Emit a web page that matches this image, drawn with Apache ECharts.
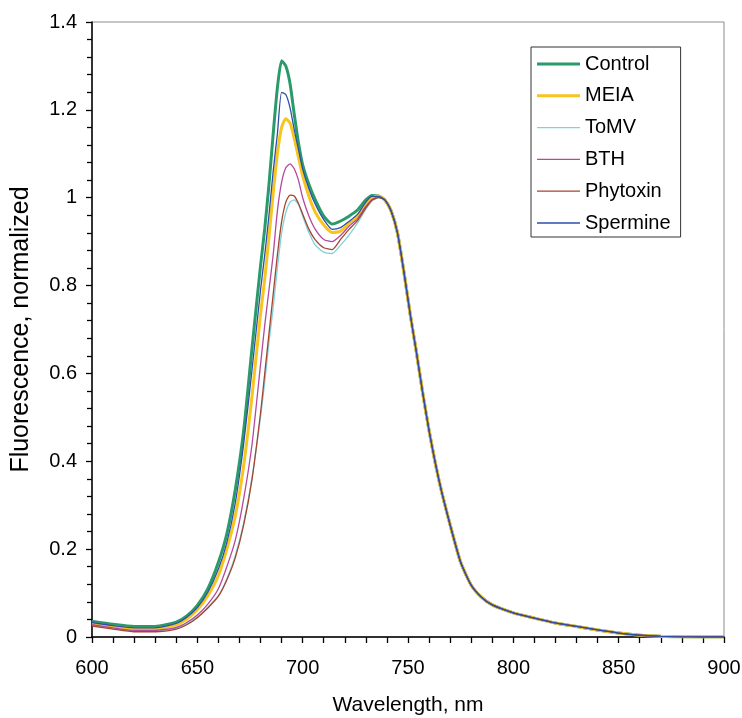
<!DOCTYPE html>
<html>
<head>
<meta charset="utf-8">
<script src="https://cdn.jsdelivr.net/npm/echarts@6/dist/echarts.min.js"></script>
<style>html,body{margin:0;padding:0;background:#fff}#c{width:742px;height:718px}</style>
</head>
<body>
<div id="c"></div>
<script>
// Wavelength grid (nm) for the region where the series differ
const wavelengthsHead = [600,610,620,630,640,645,650,655,660,664,668,672,676,680,682,684,686,688,690,692,694,696,698,700,703,706,710,714,718,722,726,730,733,736];
// Wavelength grid (nm) for the region where all series coincide
const wavelengthsTail = [739,742,745,748,751,754,757,760,763,766,770,775,780,785,790,800,810,820,830,840,850,860,870,880,890,900];

const controlHead  = [.036,.029,.024,.024,.034,.048,.072,.11,.17,.235,.335,.47,.66,.845,.93,1.03,1.145,1.25,1.312,1.3,1.26,1.19,1.125,1.075,1.03,.995,.958,.94,.947,.958,.972,.995,1.005,1.004];
const meiaHead     = [.031,.024,.019,.019,.028,.041,.062,.094,.14,.2,.275,.39,.55,.735,.815,.91,1.01,1.1,1.16,1.18,1.17,1.135,1.092,1.05,1.003,.967,.938,.921,.924,.942,.958,.985,1.0,1.004];
const tomvHead     = [.027,.02,.014,.014,.02,.03,.046,.068,.094,.132,.185,.26,.365,.5,.58,.67,.75,.84,.92,.966,.99,.995,.985,.958,.92,.892,.876,.873,.892,.915,.942,.974,.993,1.0];
const bthHead      = [.028,.021,.015,.015,.022,.033,.05,.075,.11,.16,.22,.315,.44,.62,.71,.79,.87,.97,1.035,1.068,1.077,1.066,1.04,1.0,.958,.928,.905,.9,.914,.935,.952,.98,.996,1.002];
const phytoxinHead = [.025,.018,.012,.012,.018,.028,.044,.066,.093,.13,.18,.255,.36,.51,.6,.69,.78,.87,.945,.99,1.006,1.004,.987,.963,.928,.904,.886,.882,.905,.928,.948,.977,.995,1.0];
const spermineHead = [.033,.026,.021,.021,.031,.045,.067,.102,.155,.215,.305,.44,.61,.79,.87,.96,1.06,1.145,1.24,1.235,1.205,1.155,1.11,1.065,1.02,.985,.95,.928,.932,.946,.962,.99,1.003,1.003];
// Common tail (all treatments overlap beyond the 736 nm peak)
const sharedTail   = [.995,.97,.92,.833,.736,.648,.555,.47,.395,.33,.255,.17,.118,.09,.073,.055,.043,.032,.024,.016,.009,.004,.0015,.0003,0,0];

const seriesNames = ['Control','MEIA','ToMV','BTH','Phytoxin','Spermine'];
const seriesHeads = [controlHead, meiaHead, tomvHead, bthHead, phytoxinHead, spermineHead];
const seriesColors = ['#2a9a6a','#f7c51e','#7fd2dc','#b4489c','#a4452f','#2d4fa8'];
const seriesWidths = [3, 3, 1.3, 1.3, 1.3, 1.3];

const xTicks = [600,650,700,750,800,850,900];
const yTicks = [0,0.2,0.4,0.6,0.8,1,1.2,1.4];

const wl = wavelengthsHead.concat(wavelengthsTail);
function pairs(head){ const v = head.concat(sharedTail); return wl.map((x,i)=>[x,v[i]]); }

const FONT = 'Liberation Sans, Arial, sans-serif';
const chart = echarts.init(document.getElementById('c'), null, {renderer:'canvas'});
chart.setOption({
  animation:false,
  backgroundColor:'#fff',
  grid:{left:92,right:18,top:22,bottom:81,containLabel:false,outerBoundsMode:'none',show:true,borderColor:'#8c8c8c',borderWidth:1,backgroundColor:'transparent'},
  legend:{
    orient:'vertical', left:531, top:47,
    data:seriesNames.map((n,i)=>({name:n, icon:'path://M0 0H43V'+seriesWidths[i]+'H0Z', itemStyle:{color:seriesColors[i]}})),
    backgroundColor:'#fff',
    borderColor:'#333', borderWidth:1,
    padding:[7,10,4,6],
    itemWidth:43, itemHeight:14, itemGap:11.8,
    textStyle:{fontFamily:FONT,fontSize:20,color:'#000'}
  },
  xAxis:{
    type:'value', min:xTicks[0], max:xTicks[xTicks.length-1], interval:50,
    name:'Wavelength, nm', nameLocation:'middle', nameGap:58,
    nameTextStyle:{fontFamily:FONT,fontSize:21,color:'#000'},
    axisLine:{show:true,onZero:false,lineStyle:{color:'#000',width:1.5}},
    axisTick:{show:true,inside:false,length:6,lineStyle:{color:'#000',width:1.3}},
    minorTick:{show:true,splitNumber:5,length:6,lineStyle:{color:'#000',width:1.3}},
    splitLine:{show:false},
    axisLabel:{fontFamily:FONT,fontSize:20,color:'#000',margin:21}
  },
  yAxis:{
    type:'value', min:yTicks[0], max:yTicks[yTicks.length-1], interval:0.2,
    name:'Fluorescence, normalized', nameLocation:'middle', nameGap:58,
    nameTextStyle:{fontFamily:FONT,fontSize:25,color:'#000'},
    axisLine:{show:true,onZero:false,lineStyle:{color:'#000',width:1.5}},
    axisTick:{show:true,inside:false,length:6,lineStyle:{color:'#000',width:1.3}},
    minorTick:{show:true,splitNumber:5,length:5,lineStyle:{color:'#000',width:1.3}},
    splitLine:{show:false},
    axisLabel:{fontFamily:FONT,fontSize:20,color:'#000',margin:15,formatter:v=>String(+v.toFixed(1))}
  },
  series: seriesNames.map((n,i)=>({
    name:n, type:'line', data:pairs(seriesHeads[i]),
    symbol:'none', smooth:0.2,
    lineStyle:{color:seriesColors[i],width:seriesWidths[i]},
    itemStyle:{color:seriesColors[i]},
    z:2+i
  }))
});
</script>
</body>
</html>
